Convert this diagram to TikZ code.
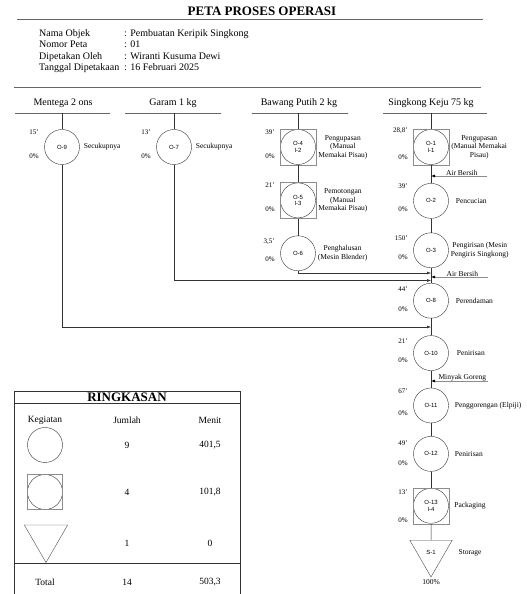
\documentclass[tikz,border=0pt]{standalone}
\usepackage{fontspec}
\setmainfont{Liberation Serif}
\setsansfont{Liberation Sans}
\usepackage{tikz}
\usetikzlibrary{shapes.geometric, arrows.meta, positioning}

\begin{document}
\begin{tikzpicture}[x=1pt, y=1pt,
  node distance=15pt,
  opr/.style={circle, draw=black!80, minimum size=35pt, inner sep=0pt,
              align=center, font=\sffamily\fontsize{6}{6.5}\selectfont},
  oprins/.style={rectangle, draw=black!45, minimum size=36pt, inner sep=0pt,
              align=center, font=\sffamily\fontsize{6}{6.5}\selectfont,
              path picture={\draw[black!80] (path picture bounding box.center) circle (17.5pt);}},
  stg/.style={regular polygon, regular polygon sides=3, shape border rotate=180,
              draw=black!70, minimum size=49pt, inner sep=0pt,
              font=\sffamily\fontsize{6}{6.5}\selectfont},
  lbl/.style={font=\fontsize{7.5}{8.5}\selectfont, align=center, inner sep=1pt},
  tm/.style={font=\fontsize{7}{8}\selectfont, anchor=east, inner sep=0pt},
  head/.style={font=\fontsize{10}{12}\selectfont},
  info/.style={font=\fontsize{10}{12}\selectfont, anchor=west, inner sep=0pt,
               text height=1.5ex, text depth=.25ex},
  tab/.style={font=\fontsize{9.5}{11}\selectfont},
  rule/.style={black!60, line width=0.8pt},
  link/.style={black!80, line width=0.5pt},
  flow/.style={-{Latex[length=4pt, width=3pt]}, black!80, line width=0.5pt},
  inlet/.style={-{Latex[length=4pt, width=3pt, black]}, black!45, line width=0.6pt},
]
  \useasboundingbox (0,0) rectangle (527,594);

  % judul
  \node[font=\bfseries\fontsize{13}{15}\selectfont] (judul) at (262,583) {PETA PROSES OPERASI};
  \draw[rule] (17,575) -- (483,575);

  % keterangan peta
  \node[info] (k1) at (39,560) {Nama Objek};
  \node[info] (k2) at (39,549) {Nomor Peta};
  \node[info] (k3) at (39,537) {Dipetakan Oleh};
  \node[info] (k4) at (39,526) {Tanggal Dipetakaan};
  \node[info] (v1) at (124,560) {: Pembuatan Keripik Singkong};
  \node[info] (v2) at (124,549) {: 01};
  \node[info] (v3) at (124,537) {: Wiranti Kusuma Dewi};
  \node[info] (v4) at (124,526) {: 16 Februari 2025};
  \draw[rule] (14,507) -- (481,507);

  % bahan
  \node[head] (hm) at (63,491) {Mentega 2 ons};
  \node[head] (hg) at (173,491) {Garam 1 kg};
  \node[head] (hb) at (299,491) {Bawang Putih 2 kg};
  \node[head] (hs) at (431,491) {Singkong Keju 75 kg};
  \draw[rule] (15,481) -- (110,481);
  \draw[rule] (125,481) -- (221,481);
  \draw[rule] (252,481) -- (348,481);
  \draw[rule] (383,481) -- (487,481);
  \coordinate (hm0) at (62,481);
  \coordinate (hg0) at (174,481);
  \coordinate (hb0) at (298,481);
  \coordinate (hs0) at (431,481);

  % mentega, garam
  \node[opr] (o9) at (62,447) {O-9};
  \node[lbl, right=3pt of o9] (l9) {Secukupnya};
  \path (o9) ++(-23,15) node[tm] (t9) {15'} ++(0,-24) node[tm] (p9) {0\%};
  \node[opr] (o7) at (174,447) {O-7};
  \node[lbl, right=3pt of o7] (l7) {Secukupnya};
  \path (o7) ++(-23,15) node[tm] (t7) {13'} ++(0,-24) node[tm] (p7) {0\%};

  % bawang putih
  \node[oprins] (o4) at (298,447) {O-4\\I-2};
  \node[oprins, below=17pt of o4] (o5) {O-5\\I-3};
  \node[opr, below=17pt of o5] (o6) {O-6};
  \node[lbl, right=1pt of o4] (l4) {Pengupasan\\(Manual\\Memakai Pisau)};
  \node[lbl, right=1pt of o5] (l5) {Pemotongan\\(Manual\\Memakai Pisau)};
  \node[lbl, right=1pt of o6] (l6) {Penghalusan\\(Mesin Blender)};
  \path (o4) ++(-23,15) node[tm] (t4) {39'} ++(0,-24) node[tm] (p4) {0\%};
  \path (o5) ++(-23,15) node[tm] (t5) {21'} ++(0,-24) node[tm] (p5) {0\%};
  \path (o6) ++(-23,12) node[tm] (t6) {3,5'} ++(0,-18) node[tm] (p6) {0\%};

  % singkong keju
  \node[oprins] (o1) at (431,447) {O-1\\I-1};
  \node[opr, below=18pt of o1] (o2) {O-2};
  \node[opr, below=14pt of o2] (o3) {O-3};
  \node[opr, below=15pt of o3] (o8) {O-8};
  \node[opr, below=17pt of o8] (o10) {O-10};
  \node[opr, below=17pt of o10] (o11) {O-11};
  \node[opr, below=13pt of o11] (o12) {O-12};
  \node[oprins, below=16pt of o12] (o13) {O-13\\I-4};
  \node[stg, below=16pt of o13] (s1) {S-1};
  \node[lbl, below=1pt of s1] (s1p) {100\%};

  \node[lbl, right=1pt of o1] (l1) {Pengupasan\\(Manual Memakai\\Pisau)};
  \node[lbl, right=6pt of o2] (l2) {Pencucian};
  \node[lbl, right=1pt of o3] (l3) {Pengirisan (Mesin\\Pengiris Singkong)};
  \node[lbl, right=6pt of o8] (l8) {Perendaman};
  \node[lbl, right=7pt of o10] (l10) {Penirisan};
  \node[lbl, right=5pt of o11] (l11) {Penggorengan (Elpiji)};
  \node[lbl, right=5pt of o12] (l12) {Penirisan};
  \node[lbl, right=4pt of o13] (l13) {Packaging};
  \node[lbl, right=12pt of s1] (ls1) {Storage};

  \path (o1) ++(-23,16) node[tm] (t1) {28,8'} ++(0,-26) node[tm] (p1) {0\%};
  \path (o2) ++(-23,15) node[tm] (t2) {39'} ++(0,-23) node[tm] (p2) {0\%};
  \path (o3) ++(-23,12) node[tm] (t3) {150'} ++(0,-19) node[tm] (p3) {0\%};
  \path (o8) ++(-23,12) node[tm] (t8) {44'} ++(0,-21) node[tm] (p8) {0\%};
  \path (o10) ++(-23,12) node[tm] (t10) {21'} ++(0,-19) node[tm] (p10) {0\%};
  \path (o11) ++(-23,14) node[tm] (t11) {67'} ++(0,-22) node[tm] (p11) {0\%};
  \path (o12) ++(-23,11) node[tm] (t12) {49'} ++(0,-20) node[tm] (p12) {0\%};
  \path (o13) ++(-23,14) node[tm] (t13) {13'} ++(0,-28) node[tm] (p13) {0\%};

  % garis alir
  \draw[link] (hm0) -- (o9);
  \draw[link] (hg0) -- (o7);
  \draw[link] (hb0) -- (o4);
  \draw[link] (o4) -- (o5);
  \draw[link] (o5) -- (o6);
  \draw[link] (hs0) -- (o1);
  \draw[link] (o1) -- (o2);
  \draw[link] (o2) -- (o3);
  \draw[link] (o3) -- (o8);
  \draw[link] (o8) -- (o10);
  \draw[link] (o10) -- (o11);
  \draw[link] (o11) -- (o12);
  \draw[link] (o12) -- (o13);
  \draw[link] (o13) -- (s1);

  \coordinate (j6) at (431,321);
  \coordinate (j7) at (431,313.5);
  \coordinate (j9) at (431,267);
  \draw[flow] (o6.south) |- (j6);
  \draw[flow] (o7.south) |- (j7);
  \draw[flow] (o9.south) |- (j9);

  % bahan tambahan
  \coordinate (ab1) at (487,418);
  \coordinate (ab1e) at (431,418);
  \coordinate (ab2) at (488,317);
  \coordinate (ab2e) at (431,317);
  \coordinate (mg) at (488,213);
  \coordinate (mge) at (431,213);
  \draw[inlet] (ab1) -- (ab1e) node[lbl, pos=0.45, above=-1pt, black] (tab1) {Air Bersih};
  \draw[inlet] (ab2) -- (ab2e) node[lbl, pos=0.45, above=-1pt, black] (tab2) {Air Bersih};
  \draw[inlet] (mg) -- (mge) node[lbl, pos=0.45, above=-1pt, black] (tmg) {Minyak Goreng};

  % ringkasan
  \draw[link] (14,0) -- (14,203) -- (240,203) -- (240,0);
  \draw[link] (14,191) -- (240,191);
  \draw[link] (14,31) -- (240,31);
  \node[font=\bfseries\fontsize{13}{15}\selectfont, inner sep=0pt] (rk) at (127,197) {RINGKASAN};
  \node[tab] (rk1) at (45,174) {Kegiatan};
  \node[tab] (rk2) at (127,174) {Jumlah};
  \node[tab] (rk3) at (210,174) {Menit};
  \node[opr] (lgop) at (45,149) {};
  \node[oprins, minimum size=35pt] (lgins) at (45,102) {};
  \node[stg, minimum size=50pt] (lgstg) at (46,56.5) {};
  \node[tab] (n1) at (127,149) {9};
  \node[tab] (m1) at (210,149) {401,5};
  \node[tab] (n2) at (127,102) {4};
  \node[tab] (m2) at (210,102) {101,8};
  \node[tab] (n3) at (127,51) {1};
  \node[tab] (m3) at (210,51) {0};
  \node[tab] (tot) at (45,12) {Total};
  \node[tab] (n4) at (127,12) {14};
  \node[tab] (m4) at (210,12) {503,3};
\end{tikzpicture}
\end{document}
